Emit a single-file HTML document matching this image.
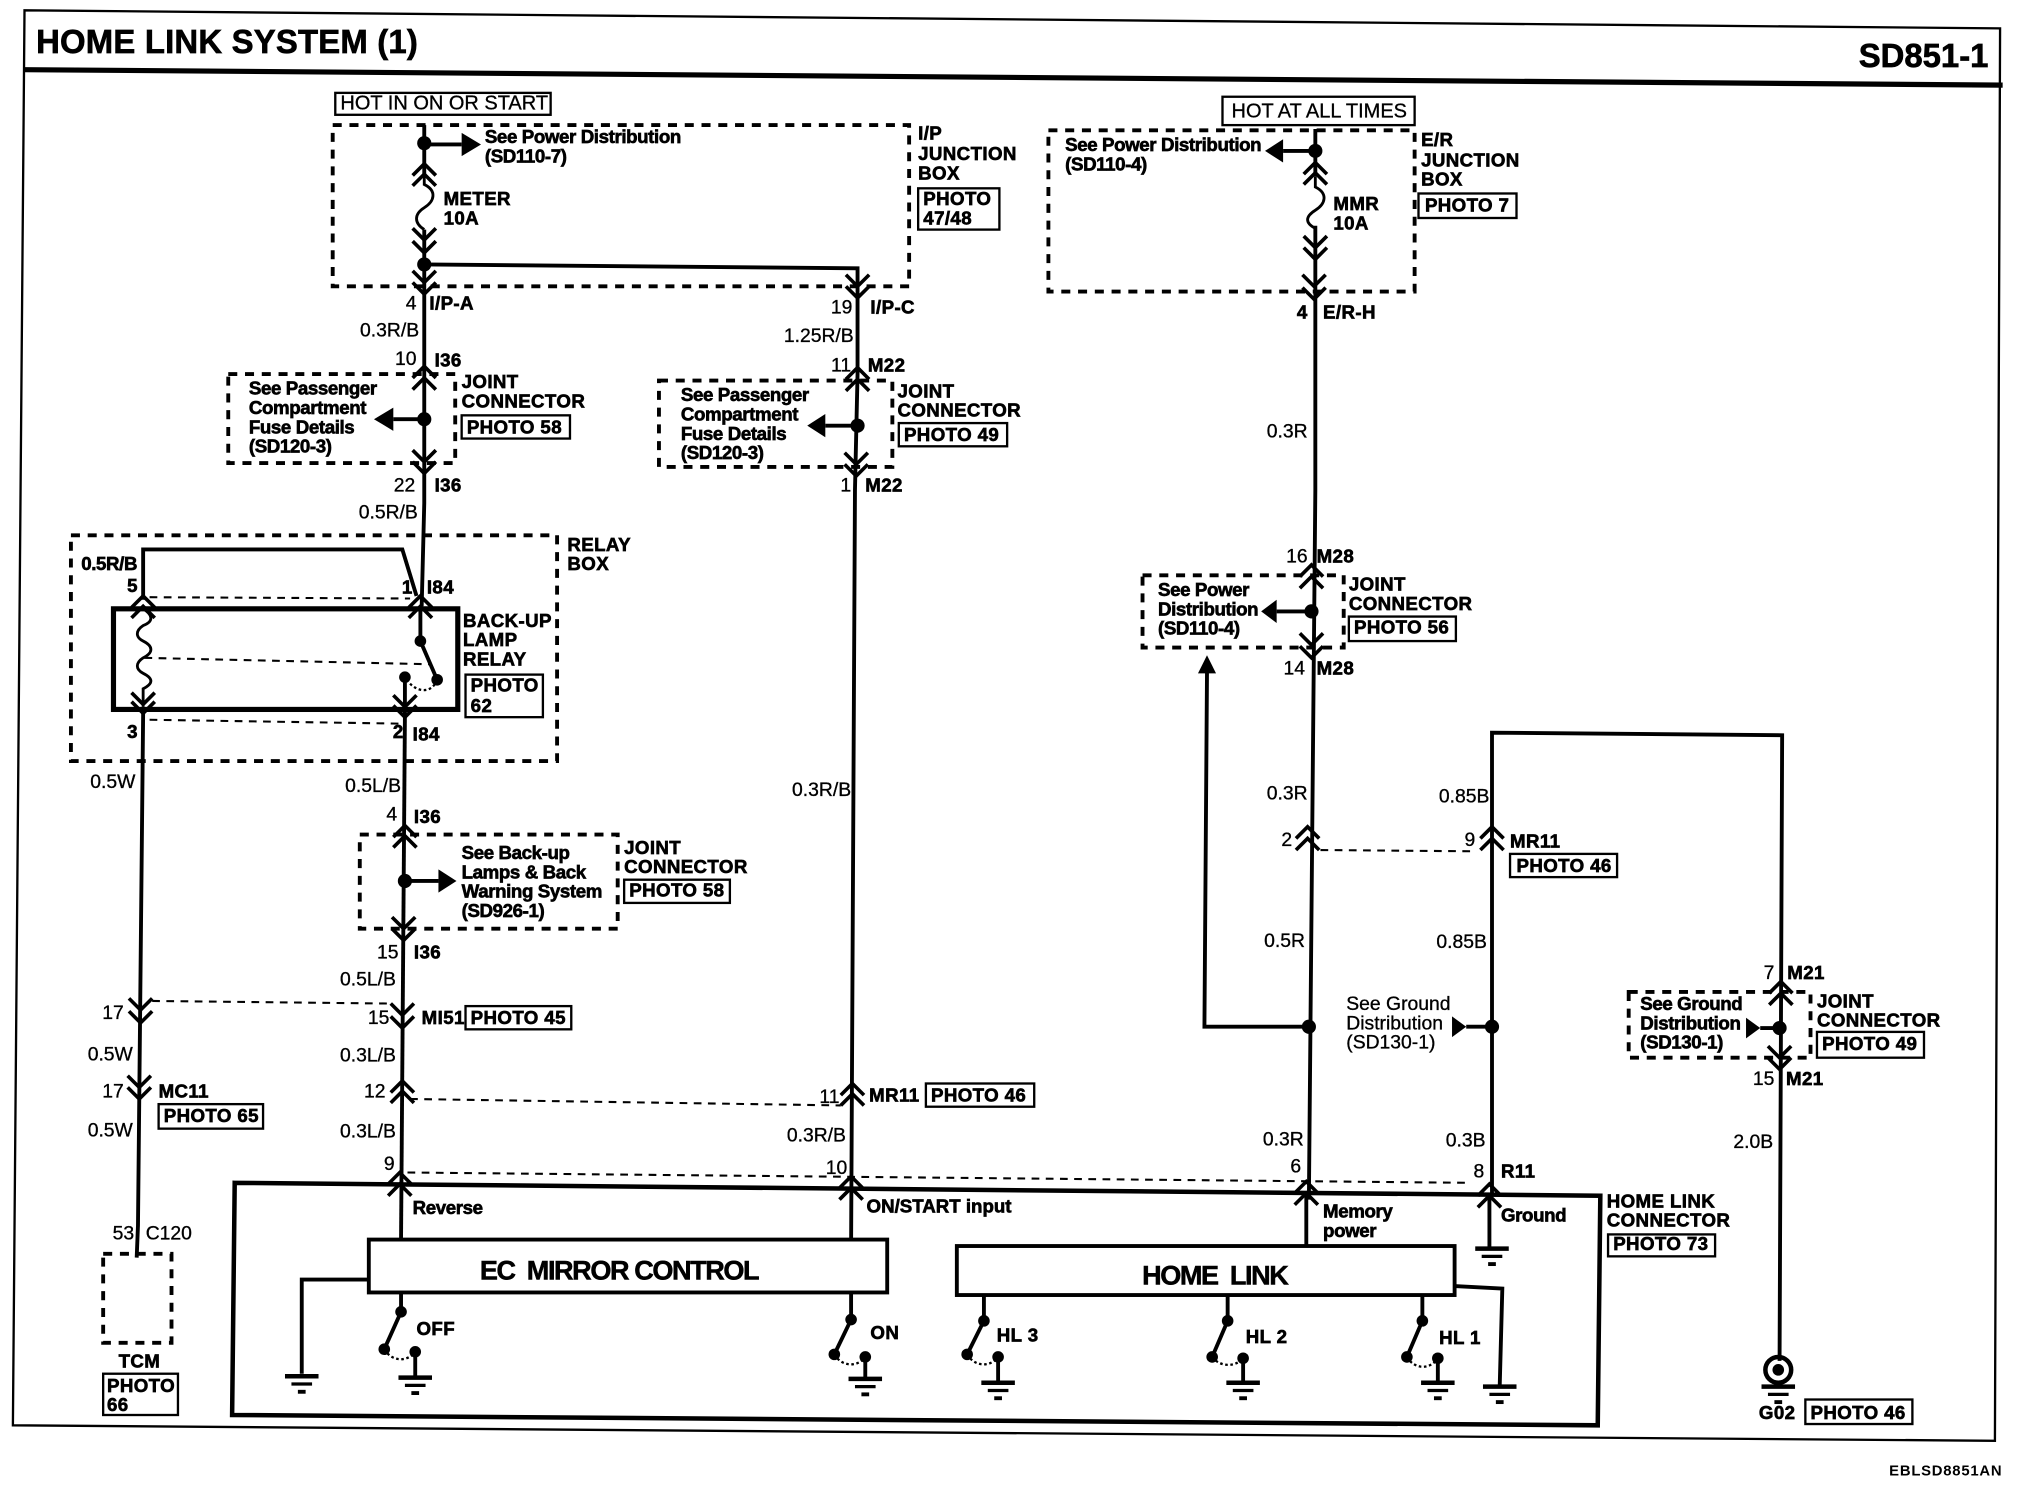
<!DOCTYPE html>
<html><head><meta charset="utf-8"><title>Home Link System</title>
<style>
html,body{margin:0;padding:0;background:#fff}
svg{display:block}
text{font-family:"Liberation Sans",sans-serif;fill:#000}
.b{font-weight:bold;font-size:14.5px;stroke:#000;stroke-width:.5px;letter-spacing:.3px}
.m{font-weight:bold;font-size:14.5px;stroke:#000;stroke-width:.5px;letter-spacing:-.3px}
.n{font-size:15px;stroke:#000;stroke-width:.25px}
.e{text-anchor:end}
.w{fill:none;stroke:#000;stroke-width:3}
.w2{fill:none;stroke:#000;stroke-width:2.2}
.k{fill:none;stroke:#000;stroke-width:3;stroke-dasharray:7 6}
.t{fill:none;stroke:#000;stroke-width:1.6;stroke-dasharray:6 5}
.a{fill:none;stroke:#000;stroke-width:1.8;stroke-dasharray:2 2}
.o{fill:none;stroke:#000;stroke-width:1.8}
.c{fill:none;stroke:#000;stroke-width:2.8}
</style></head><body>
<svg xmlns="http://www.w3.org/2000/svg" width="2022" height="1504" viewBox="0 0 1568 1166" preserveAspectRatio="none">
<defs>
<polyline id="u" points="-9,9 0,0 9,9" class="c"/>
<polyline id="d" points="-9,-9 0,0 9,-9" class="c"/>
<g id="g"><path d="M-13,0H13" stroke="#000" stroke-width="3.5"/><path d="M-8,6H8" stroke="#000" stroke-width="2.5"/><path d="M-3,12H3" stroke="#000" stroke-width="3"/></g>
</defs>
<rect width="1568" height="1166" fill="#fff"/>

<!-- frame -->
<path d="M19,8 L1551,22 L1547,1117 L10,1105 Z" class="o"/>
<path d="M19,54 L1553,66" stroke="#000" stroke-width="4"/>
<text x="28" y="41" font-size="25.5" font-weight="bold" style="stroke:#000;stroke-width:.5px;letter-spacing:.15px">HOME LINK SYSTEM (1)</text>
<text x="1542" y="52" font-size="25.5" font-weight="bold" text-anchor="end" style="stroke:#000;stroke-width:.5px">SD851-1</text>

<!-- I/P junction box -->
<rect x="260" y="72" width="167" height="17" class="o"/>
<text x="264" y="85" class="n" style="font-size:15.5px">HOT IN ON OR START</text>
<rect x="258" y="97" width="447" height="125" class="k"/>
<path d="M329,97V135M329,178V390L327,470" class="w"/>
<path d="M329,135v8c10,5 8,13 0,18c-8,5 -8,12 0,17" class="w2"/>
<circle cx="329" cy="111" r="5.5"/><circle cx="329" cy="205" r="5.5"/>
<path d="M329,112H358" class="w"/><path d="M358,103L373,112L358,121Z"/>
<use href="#u" x="329" y="127"/><use href="#u" x="329" y="135"/>
<use href="#d" x="329" y="186"/><use href="#d" x="329" y="196"/>
<use href="#d" x="329" y="219"/><use href="#d" x="329" y="228"/>
<text x="376" y="111" class="m">See Power Distribution</text>
<text x="376" y="126" class="m">(SD110-7)</text>
<text x="344" y="159" class="b">METER</text><text x="344" y="174" class="b">10A</text>
<text x="712" y="108" class="b">I/P</text><text x="712" y="124" class="b">JUNCTION</text><text x="712" y="139" class="b">BOX</text>
<rect x="712" y="146" width="63" height="32" class="o"/>
<text x="716" y="159" class="b">PHOTO</text><text x="716" y="174" class="b">47/48</text>
<path d="M329,205L665,208V230L665,290L663,380L660,965" class="w"/>
<use href="#d" x="665" y="222"/><use href="#d" x="665" y="231"/>

<text x="323" y="240" class="n e">4</text><text x="333" y="240" class="b">I/P-A</text>
<text x="325" y="261" class="n e">0.3R/B</text>
<text x="323" y="283" class="n e">10</text><text x="337" y="284" class="b">I36</text>
<use href="#u" x="329" y="284"/><use href="#u" x="329" y="293"/>
<rect x="177" y="290" width="176" height="69" class="k"/>
<text x="193" y="306" class="m">See Passenger</text><text x="193" y="321" class="m">Compartment</text><text x="193" y="336" class="m">Fuse Details</text><text x="193" y="351" class="m">(SD120-3)</text>
<circle cx="329" cy="325" r="5.5"/><path d="M329,325H305" class="w"/><path d="M305,316L290,325L305,334Z"/>
<text x="358" y="301" class="b">JOINT</text><text x="358" y="316" class="b">CONNECTOR</text>
<rect x="358" y="322" width="84" height="18" class="o"/><text x="362" y="336" class="b">PHOTO 58</text>
<use href="#d" x="329" y="358"/><use href="#d" x="329" y="367"/>
<text x="322" y="381" class="n e">22</text><text x="337" y="381" class="b">I36</text>
<text x="324" y="402" class="n e">0.5R/B</text>

<text x="661" y="243" class="n e">19</text><text x="675" y="243" class="b">I/P-C</text>
<text x="662" y="265" class="n e">1.25R/B</text>
<text x="660" y="288" class="n e">11</text><text x="673" y="288" class="b">M22</text>
<use href="#u" x="665" y="285"/><use href="#u" x="665" y="294"/>
<rect x="511" y="295" width="181" height="67" class="k"/>
<text x="528" y="311" class="m">See Passenger</text><text x="528" y="326" class="m">Compartment</text><text x="528" y="341" class="m">Fuse Details</text><text x="528" y="356" class="m">(SD120-3)</text>
<circle cx="665" cy="330" r="5.5"/><path d="M665,330H640" class="w"/><path d="M640,321L626,330L640,339Z"/>
<text x="696" y="308" class="b">JOINT</text><text x="696" y="323" class="b">CONNECTOR</text>
<rect x="697" y="328" width="84" height="18" class="o"/><text x="701" y="342" class="b">PHOTO 49</text>
<use href="#d" x="664" y="360"/><use href="#d" x="664" y="369"/>
<text x="660" y="381" class="n e">1</text><text x="671" y="381" class="b">M22</text>
<text x="660" y="617" class="n e">0.3R/B</text>

<!-- relay -->
<rect x="55" y="415" width="377" height="175" class="k"/>
<text x="440" y="427" class="b">RELAY</text><text x="440" y="442" class="b">BOX</text>
<text x="63" y="442" class="m">0.5R/B</text>
<path d="M111,465V426H312L323,462" class="w"/>
<text x="107" y="459" class="b e">5</text><text x="320" y="460" class="b e">1</text><text x="331" y="460" class="b">I84</text>
<path d="M116,463L318,464" class="t"/>
<use href="#u" x="111" y="462"/><use href="#u" x="111" y="470"/>
<use href="#u" x="326" y="462"/><use href="#u" x="326" y="470"/>
<rect x="88" y="472" width="267" height="78" fill="none" stroke="#000" stroke-width="4"/>
<path d="M326,470V497L339,527" class="w"/>
<circle cx="326" cy="497" r="4.5"/><circle cx="339" cy="527" r="4.5"/><circle cx="314" cy="525" r="4.5"/>
<path d="M339,527C335,538 322,538 314,525" class="a"/>
<path d="M314,525V555" class="w"/>
<path d="M111,472c8,5 8,10 0,13c-6,4 -6,9 0,12c8,4 8,9 0,13c-6,4 -6,9 0,12c8,4 8,8 0,12v14" class="w2"/>
<path d="M112,510L335,515" class="t"/>
<use href="#d" x="111" y="546"/><use href="#d" x="111" y="553"/>
<use href="#d" x="314" y="548"/><use href="#d" x="314" y="556"/>
<path d="M116,558L310,561" class="t"/>
<text x="359" y="486" class="b">BACK-UP</text><text x="359" y="501" class="b">LAMP</text><text x="359" y="516" class="b">RELAY</text>
<rect x="361" y="523" width="60" height="33" class="o"/>
<text x="365" y="536" class="b">PHOTO</text><text x="365" y="552" class="b">62</text>
<text x="107" y="572" class="b e">3</text><text x="313" y="572" class="b e">2</text><text x="320" y="574" class="b">I84</text>

<path d="M111,553L107,950L106,975" class="w"/>
<path d="M314,555L311,960" class="w"/>
<text x="105" y="611" class="n e">0.5W</text><text x="311" y="614" class="n e">0.5L/B</text>
<text x="308" y="636" class="n e">4</text><text x="321" y="638" class="b">I36</text>
<use href="#u" x="314" y="640"/><use href="#u" x="314" y="648"/>
<rect x="279" y="647" width="200" height="73" class="k"/>
<text x="358" y="666" class="m">See Back-up</text><text x="358" y="681" class="m">Lamps &amp; Back</text><text x="358" y="696" class="m">Warning System</text><text x="358" y="711" class="m">(SD926-1)</text>
<circle cx="314" cy="683" r="5.5"/><path d="M314,683H340" class="w"/><path d="M340,674L354,683L340,692Z"/>
<text x="484" y="662" class="b">JOINT</text><text x="484" y="677" class="b">CONNECTOR</text>
<rect x="484" y="682" width="82" height="18" class="o"/><text x="488" y="695" class="b">PHOTO 58</text>
<use href="#d" x="313" y="720"/><use href="#d" x="313" y="729"/>
<text x="309" y="743" class="n e">15</text><text x="321" y="743" class="b">I36</text>
<text x="307" y="764" class="n e">0.5L/B</text>

<path d="M118,776L300,778" class="t"/>
<use href="#d" x="109" y="783"/><use href="#d" x="109" y="793"/>
<use href="#d" x="312" y="787"/><use href="#d" x="312" y="797"/>
<text x="96" y="790" class="n e">17</text><text x="302" y="794" class="n e">15</text><text x="327" y="794" class="b">MI51</text>
<rect x="361" y="780" width="82" height="18" class="o"/><text x="365" y="794" class="b">PHOTO 45</text>
<text x="103" y="822" class="n e">0.5W</text><text x="307" y="823" class="n e">0.3L/B</text>
<text x="96" y="851" class="n e">17</text><text x="123" y="851" class="b">MC11</text>
<use href="#d" x="108" y="843"/><use href="#d" x="108" y="852"/>
<rect x="123" y="856" width="81" height="19" class="o"/><text x="127" y="870" class="b">PHOTO 65</text>
<text x="299" y="851" class="n e">12</text>
<use href="#u" x="312" y="838"/><use href="#u" x="312" y="846"/>
<path d="M318,852L652,857" class="t"/>
<text x="651" y="855" class="n e">11</text>
<use href="#u" x="661" y="840"/><use href="#u" x="661" y="848"/>
<text x="674" y="854" class="b">MR11</text>
<rect x="718" y="840" width="84" height="18" class="o"/><text x="722" y="854" class="b">PHOTO 46</text>
<text x="103" y="881" class="n e">0.5W</text><text x="307" y="882" class="n e">0.3L/B</text>
<text x="656" y="885" class="n e">0.3R/B</text>
<text x="306" y="907" class="n e">9</text><text x="657" y="910" class="n e">10</text>
<path d="M316,909L1140,917" class="t"/>

<!-- home link connector -->
<path d="M182,917L1241,927L1239,1105L180,1097Z" fill="none" stroke="#000" stroke-width="3.5"/>
<use href="#u" x="310" y="909"/><use href="#u" x="310" y="918"/>
<use href="#u" x="660" y="912"/><use href="#u" x="660" y="921"/>
<use href="#u" x="1013" y="916"/><use href="#u" x="1013" y="925"/>
<use href="#u" x="1155" y="918"/><use href="#u" x="1155" y="927"/>
<text x="320" y="941" class="m">Reverse</text><text x="672" y="940" class="m" style="letter-spacing:0">ON/START input</text>
<text x="1026" y="944" class="m">Memory</text><text x="1026" y="959" class="m">power</text>
<text x="1164" y="947" class="m">Ground</text>
<text x="1246" y="936" class="b">HOME LINK</text><text x="1246" y="951" class="b">CONNECTOR</text>
<rect x="1247" y="957" width="83" height="17" class="o"/><text x="1251" y="969" class="b">PHOTO 73</text>

<rect x="286" y="961" width="402" height="41" fill="#fff" stroke="#000" stroke-width="3"/>
<text x="480" y="992" text-anchor="middle" font-size="21" font-weight="bold" xml:space="preserve" style="stroke:#000;stroke-width:.4px;letter-spacing:-1.1px">EC  MIRROR CONTROL</text>
<rect x="742" y="966" width="386" height="38" fill="#fff" stroke="#000" stroke-width="3"/>
<text x="942" y="996" text-anchor="middle" font-size="21" font-weight="bold" xml:space="preserve" style="stroke:#000;stroke-width:.4px;letter-spacing:-1.1px">HOME  LINK</text>

<path d="M1013,926V966M1155,925V968" class="w"/>
<use href="#g" x="1157" y="968"/>
<path d="M286,992H234V1065" class="w"/><use href="#g" x="234" y="1067"/>

<!-- switches -->
<path d="M311,1002V1017L298,1046" class="w"/><circle cx="311" cy="1017" r="4.5"/><circle cx="298" cy="1046" r="4.5"/><circle cx="322" cy="1048" r="4.5"/>
<path d="M298,1046C304,1056 316,1056 322,1048" class="a"/><path d="M322,1048V1067" class="w"/><use href="#g" x="322" y="1068"/>
<text x="323" y="1035" class="b">OFF</text>
<path d="M660,1002V1023L647,1050" class="w"/><circle cx="660" cy="1023" r="4.5"/><circle cx="647" cy="1050" r="4.5"/><circle cx="671" cy="1052" r="4.5"/>
<path d="M647,1050C653,1060 665,1060 671,1052" class="a"/><path d="M671,1052V1068" class="w"/><use href="#g" x="671" y="1069"/>
<text x="675" y="1038" class="b">ON</text>
<path d="M763,1004V1024L750,1050" class="w"/><circle cx="763" cy="1024" r="4.5"/><circle cx="750" cy="1050" r="4.5"/><circle cx="774" cy="1052" r="4.5"/>
<path d="M750,1050C756,1060 768,1060 774,1052" class="a"/><path d="M774,1052V1072" class="w"/><use href="#g" x="774" y="1072"/>
<text x="773" y="1040" class="b">HL 3</text>
<path d="M952,1004V1024L940,1052" class="w"/><circle cx="952" cy="1024" r="4.5"/><circle cx="940" cy="1052" r="4.5"/><circle cx="964" cy="1053" r="4.5"/>
<path d="M940,1052C946,1060 958,1060 964,1053" class="a"/><path d="M964,1053V1072" class="w"/><use href="#g" x="964" y="1072"/>
<text x="966" y="1041" class="b">HL 2</text>
<path d="M1103,1004V1024L1091,1052" class="w"/><circle cx="1103" cy="1024" r="4.5"/><circle cx="1091" cy="1052" r="4.5"/><circle cx="1115" cy="1053" r="4.5"/>
<path d="M1091,1052C1097,1062 1109,1062 1115,1053" class="a"/><path d="M1115,1053V1072" class="w"/><use href="#g" x="1115" y="1072"/>
<text x="1116" y="1042" class="b">HL 1</text>
<path d="M1128,997L1165,999L1163,1074" class="w"/><use href="#g" x="1163" y="1075"/>

<!-- TCM -->
<text x="104" y="961" class="n e">53</text><text x="113" y="961" class="n">C120</text>
<rect x="80" y="972" width="53" height="69" class="k"/>
<text x="92" y="1060" class="b">TCM</text>
<rect x="80" y="1065" width="58" height="32" class="o"/>
<text x="83" y="1079" class="b">PHOTO</text><text x="83" y="1094" class="b">66</text>

<!-- E/R junction -->
<rect x="948" y="75" width="149" height="22" class="o"/>
<text x="955" y="91" class="n" style="font-size:15.5px">HOT AT ALL TIMES</text>
<rect x="813" y="101" width="284" height="125" class="k"/>
<path d="M1020,100V137M1020,175V380L1015,930" class="w"/>
<path d="M1020,137v8c10,5 8,13 0,18c-8,5 -8,10 0,14" class="w2"/>
<circle cx="1020" cy="117" r="5.5"/><path d="M1020,117H995" class="w"/><path d="M995,108L981,117L995,126Z"/>
<use href="#u" x="1020" y="126"/><use href="#u" x="1020" y="134"/>
<use href="#d" x="1020" y="192"/><use href="#d" x="1020" y="201"/>
<use href="#d" x="1019" y="222"/><use href="#d" x="1019" y="232"/>
<text x="826" y="117" class="m">See Power Distribution</text><text x="826" y="132" class="m">(SD110-4)</text>
<text x="1034" y="163" class="b">MMR</text><text x="1034" y="178" class="b">10A</text>
<text x="1102" y="113" class="b">E/R</text><text x="1102" y="129" class="b">JUNCTION</text><text x="1102" y="144" class="b">BOX</text>
<rect x="1100" y="150" width="76" height="19" class="o"/><text x="1105" y="164" class="b">PHOTO 7</text>
<text x="1014" y="247" class="b e">4</text><text x="1026" y="247" class="b">E/R-H</text>
<text x="1014" y="339" class="n e">0.3R</text>
<text x="1014" y="436" class="n e">16</text><text x="1021" y="436" class="b">M28</text>
<use href="#u" x="1017" y="438"/><use href="#u" x="1017" y="447"/>
<rect x="886" y="446" width="156" height="56" class="k"/>
<text x="898" y="462" class="m">See Power</text><text x="898" y="477" class="m">Distribution</text><text x="898" y="492" class="m">(SD110-4)</text>
<circle cx="1017" cy="474" r="5.5"/><path d="M1017,474H990" class="w"/><path d="M990,465L978,474L990,483Z"/>
<text x="1046" y="458" class="b">JOINT</text><text x="1046" y="473" class="b">CONNECTOR</text>
<rect x="1046" y="478" width="83" height="19" class="o"/><text x="1050" y="491" class="b">PHOTO 56</text>
<use href="#d" x="1017" y="500"/><use href="#d" x="1017" y="510"/>
<text x="1012" y="523" class="n e">14</text><text x="1021" y="523" class="b">M28</text>
<path d="M1015,796H934L936,520" class="w"/><path d="M929,522L936,508L943,522Z"/>
<circle cx="1015" cy="796" r="5.5"/>
<text x="1014" y="620" class="n e">0.3R</text>
<text x="1002" y="656" class="n e">2</text>
<use href="#u" x="1014" y="641"/><use href="#u" x="1014" y="650"/>
<path d="M1024,659L1145,660" class="t"/>
<text x="1144" y="656" class="n e">9</text>
<use href="#u" x="1157" y="641"/><use href="#u" x="1157" y="650"/>
<text x="1171" y="657" class="b">MR11</text>
<rect x="1171" y="662" width="83" height="18" class="o"/><text x="1176" y="676" class="b">PHOTO 46</text>
<path d="M1157,925V568L1382,570L1380,1055" class="w"/>
<text x="1155" y="622" class="n e">0.85B</text>
<text x="1012" y="734" class="n e">0.5R</text><text x="1153" y="735" class="n e">0.85B</text>
<text x="1044" y="783" class="n">See Ground</text><text x="1044" y="798" class="n">Distribution</text><text x="1044" y="813" class="n">(SD130-1)</text>
<circle cx="1157" cy="796" r="5.5"/><path d="M1157,796H1137" class="w"/><path d="M1126,788L1137,796L1126,804Z"/>
<text x="1011" y="888" class="n e">0.3R</text><text x="1152" y="889" class="n e">0.3B</text>
<text x="1009" y="909" class="n e">6</text><text x="1151" y="913" class="n e">8</text><text x="1164" y="913" class="b">R11</text>

<!-- M21 -->
<text x="1376" y="759" class="n e">7</text><text x="1386" y="759" class="b">M21</text>
<use href="#u" x="1381" y="761"/><use href="#u" x="1381" y="770"/>
<rect x="1263" y="769" width="141" height="51" class="k"/>
<text x="1272" y="783" class="m">See Ground</text><text x="1272" y="798" class="m">Distribution</text><text x="1272" y="813" class="m">(SD130-1)</text>
<circle cx="1380" cy="797" r="5.5"/><path d="M1380,797H1365" class="w"/><path d="M1354,789L1365,797L1354,805Z"/>
<text x="1409" y="781" class="b">JOINT</text><text x="1409" y="796" class="b">CONNECTOR</text>
<rect x="1409" y="800" width="83" height="20" class="o"/><text x="1413" y="814" class="b">PHOTO 49</text>
<use href="#d" x="1380" y="820"/><use href="#d" x="1380" y="829"/>
<text x="1376" y="841" class="n e">15</text><text x="1385" y="841" class="b">M21</text>
<text x="1375" y="890" class="n e">2.0B</text>
<circle cx="1379" cy="1062" r="10" fill="none" stroke="#000" stroke-width="3.5"/><circle cx="1379" cy="1062" r="4.5"/>
<use href="#g" x="1379" y="1075"/>
<text x="1364" y="1100" class="b">G02</text>
<rect x="1400" y="1085" width="83" height="19" class="o"/><text x="1404" y="1100" class="b">PHOTO 46</text>
<text x="1465" y="1144" font-size="11.5" font-weight="bold" style="letter-spacing:.6px">EBLSD8851AN</text>
</svg>
</body></html>
